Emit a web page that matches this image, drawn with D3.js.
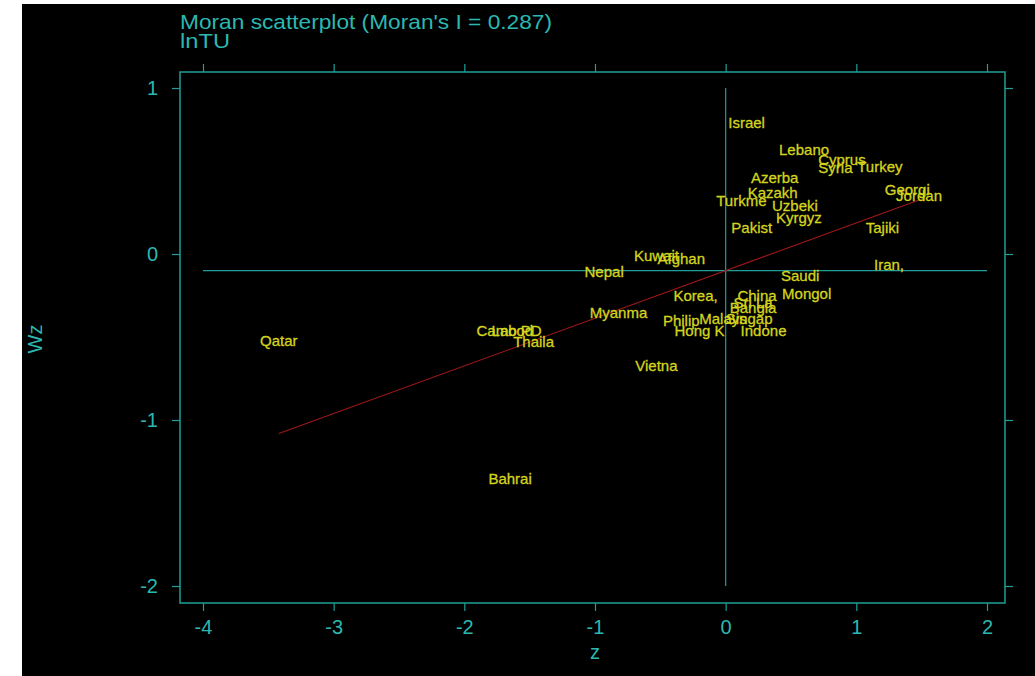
<!DOCTYPE html>
<html>
<head>
<meta charset="utf-8">
<script src="https://cdn.jsdelivr.net/npm/d3@7"></script>
<style>
  html, body { margin: 0; padding: 0; background: #ffffff; }
  svg { display: block; }
  text { font-family: "Liberation Sans", Arial, Helvetica, sans-serif; }
</style>
</head>
<body>
<svg id="chart" width="1035" height="676"></svg>
<script>
// Moran scatterplot of lnTU: standardized value (z) against its spatial lag (Wz)
const countries = ["Israel","Lebano","Cyprus","Syria","Turkey","Azerba","Kazakh","Turkme","Uzbeki","Kyrgyz",
  "Pakist","Georgi","Jordan","Tajiki","Iran,","Saudi","Mongol","China","Sri La","Bangla",
  "Korea,","Philip","Malays","Singap","Hong K","Indone","Kuwait","Afghan","Nepal","Myanma",
  "Vietna","Cambod","Lao PD","Thaila","Qatar","Bahrai"];
const zValues = [0.16,0.60,0.89,0.84,1.18,0.375,0.36,0.12,0.53,0.56,
  0.20,1.39,1.48,1.20,1.25,0.57,0.62,0.24,0.21,0.21,
  -0.23,-0.34,-0.02,0.18,-0.20,0.29,-0.53,-0.34,-0.93,-0.82,
  -0.53,-1.69,-1.60,-1.47,-3.42,-1.65];
const wzValues = [0.79,0.63,0.57,0.52,0.53,0.46,0.37,0.325,0.29,0.22,
  0.16,0.39,0.35,0.16,-0.065,-0.127,-0.235,-0.247,-0.29,-0.32,
  -0.247,-0.40,-0.39,-0.39,-0.46,-0.46,-0.01,-0.03,-0.108,-0.35,
  -0.67,-0.458,-0.458,-0.53,-0.52,-1.35];
const xTicks = [-4, -3, -2, -1, 0, 1, 2];
const yTicks = [-2, -1, 0, 1];
const moranI = 0.287;      // slope of the fitted line
const meanZ = 0;           // vertical reference line
const meanWz = -0.1;       // horizontal reference line

const points = countries.map((c, i) => ({ name: c, z: zValues[i], wz: wzValues[i] }));

const svg = d3.select("#chart");
const teal = "#2cb8b0";
const tealLine = "#1f9f97";
const yellow = "#d4d41e";

// black canvas
svg.append("rect").attr("x", 22).attr("y", 4).attr("width", 1013).attr("height", 672).attr("fill", "#000");

const x = d3.scaleLinear().domain([-4, 2]).range([203, 987]);
const y = d3.scaleLinear().domain([-2, 1]).range([586, 88]);
const frame = { left: 180, right: 1005, top: 72, bottom: 603 };
const plain = d => String(d);   // ASCII hyphen for negatives

// axes with outward ticks on all four sides
const styleAxis = g => {
  g.select(".domain").remove();
  g.selectAll(".tick line").attr("stroke", tealLine).attr("stroke-width", 1.2);
  g.selectAll(".tick text").attr("fill", teal).attr("font-size", 20)
    .attr("font-family", "'Liberation Sans', Arial, sans-serif");
};
svg.append("g").attr("transform", `translate(0,${frame.bottom})`)
  .call(d3.axisBottom(x).tickValues(xTicks).tickSize(8).tickPadding(9).tickFormat(plain))
  .call(styleAxis);
svg.append("g").attr("transform", `translate(${frame.left},0)`)
  .call(d3.axisLeft(y).tickValues(yTicks).tickSize(8).tickPadding(14).tickFormat(plain))
  .call(styleAxis);
svg.append("g").attr("transform", `translate(0,${frame.top})`)
  .call(d3.axisTop(x).tickValues(xTicks).tickSize(8).tickFormat(""))
  .call(styleAxis);
svg.append("g").attr("transform", `translate(${frame.right},0)`)
  .call(d3.axisRight(y).tickValues(yTicks).tickSize(8).tickFormat(""))
  .call(styleAxis);

// plot frame
svg.append("rect")
  .attr("x", frame.left).attr("y", frame.top)
  .attr("width", frame.right - frame.left).attr("height", frame.bottom - frame.top)
  .attr("fill", "none").attr("stroke", tealLine).attr("stroke-width", 1.5);

// reference lines at the means
svg.append("line")
  .attr("x1", x(meanZ)).attr("x2", x(meanZ)).attr("y1", y(1)).attr("y2", y(-2))
  .attr("stroke", tealLine).attr("stroke-width", 1.2);
svg.append("line")
  .attr("x1", x(-4)).attr("x2", x(2)).attr("y1", y(meanWz)).attr("y2", y(meanWz))
  .attr("stroke", tealLine).attr("stroke-width", 1.2);

// fitted line, slope = Moran's I, over the range of z
const zExt = d3.extent(points, d => d.z);
const fit = z => meanWz + moranI * (z - meanZ);
svg.append("line")
  .attr("x1", x(zExt[0])).attr("y1", y(fit(zExt[0])))
  .attr("x2", x(zExt[1])).attr("y2", y(fit(zExt[1])))
  .attr("stroke", "#a01818").attr("stroke-width", 1.1);

// country labels centred on each point
svg.append("g").selectAll("text").data(points).join("text")
  .attr("x", d => x(d.z)).attr("y", d => y(d.wz))
  .attr("text-anchor", "middle").attr("dominant-baseline", "central")
  .attr("fill", yellow).attr("stroke", yellow).attr("stroke-width", 0.3)
  .attr("font-size", 15)
  .text(d => d.name);

// titles
svg.append("text").attr("x", 180).attr("y", 29).attr("fill", teal).attr("font-size", 21)
  .attr("textLength", 372).attr("lengthAdjust", "spacingAndGlyphs")
  .text("Moran scatterplot (Moran's I = 0.287)");
svg.append("text").attr("x", 180).attr("y", 48).attr("fill", teal).attr("font-size", 21)
  .attr("textLength", 50).attr("lengthAdjust", "spacingAndGlyphs")
  .text("lnTU");

// axis titles
svg.append("text").attr("x", x(-1)).attr("y", 659).attr("text-anchor", "middle")
  .attr("fill", teal).attr("font-size", 20).text("z");
svg.append("text").attr("transform", "translate(42,339) rotate(-90)").attr("text-anchor", "middle")
  .attr("fill", teal).attr("font-size", 20).text("Wz");
</script>
</body>
</html>
